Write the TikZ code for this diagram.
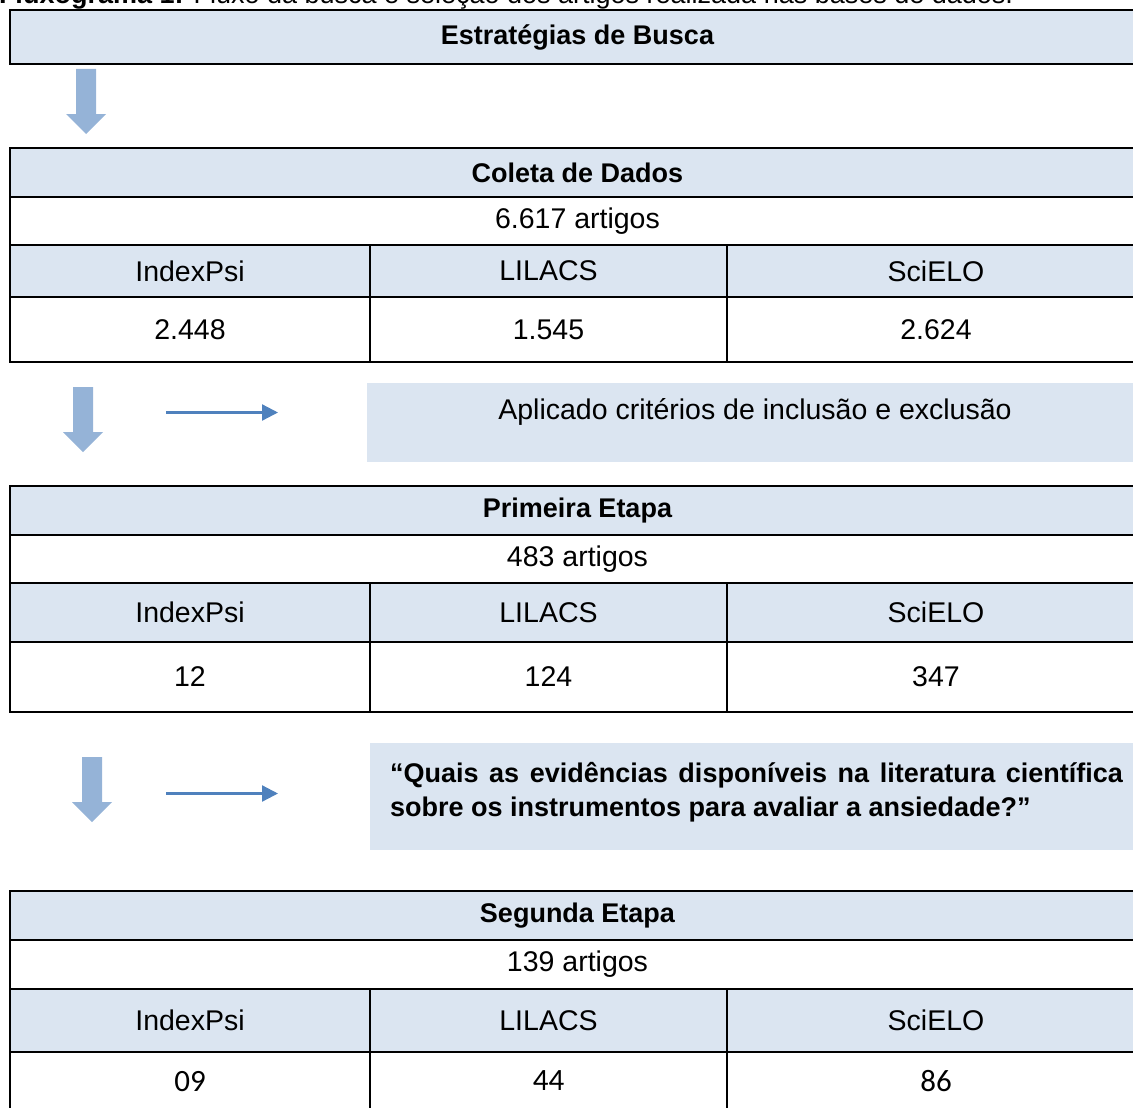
\documentclass[tikz,border=0pt]{standalone}
\usepackage{fontspec}
\setmainfont{Liberation Sans}
\newfontfamily\calibfont{Carlito}
\usetikzlibrary{arrows.meta}
\definecolor{cellblue}{HTML}{DBE5F1}
\definecolor{blockarrow}{HTML}{95B3D7}
\definecolor{thinarrow}{HTML}{4F81BD}
\newcommand\mycell[7]{\node[#6, minimum width={#4-#2}, minimum height={#5-#3}] (#1) at (#2,#3) {#7};}
\newcommand\blockarrowat[1]{\fill[blockarrow] (#1) ++(-10,0) -- ++(20,0) -- ++(0,45) -- ++(10,0) -- ++(-20,20) -- ++(-20,-20) -- ++(10,0) -- cycle;}
\begin{document}
\begin{tikzpicture}[x=1pt,y=-1pt,
  cell/.style={draw=black, line width=2.2pt, anchor=north west, inner sep=0pt, outer sep=0pt, align=center, font=\fontsize{28.5}{32}\selectfont},
  bluecell/.style={cell, fill=cellblue},
  headcell/.style={bluecell, font=\bfseries\fontsize{27}{32}\selectfont},
  numcell/.style={cell},
  calcell/.style={cell, font=\calibfont\fontsize{31}{34}\selectfont},
  note/.style={fill=cellblue, anchor=north west, inner sep=0pt, outer sep=0pt},
  thinarrowline/.style={draw=thinarrow, line width=2.3pt, -{Triangle[length=16pt,width=16pt]}},
  plaintext/.style={inner sep=0pt, outer sep=0pt}
]
\useasboundingbox (0,0) rectangle (1133,1108);
\clip (0,0) rectangle (1133,1108);

% caption (cut at the top edge)
\node[plaintext, anchor=base west, font=\fontsize{27}{30}\selectfont] (caption) at (-1,3.5) {\textbf{Fluxograma 1:} Fluxo da busca e seleção dos artigos realizada nas bases de dados.};

% top box
\mycell{estr}{10}{10}{1145}{64}{headcell}{Estratégias de Busca}

% arrow 1
\coordinate (a1) at (86,69);
\blockarrowat{a1}

% table 1
\mycell{t1h}{10}{148}{1145}{197}{headcell}{Coleta de Dados}
\mycell{t1n}{10}{197}{1145}{245}{cell}{6.617 artigos}
\mycell{t1c1}{10}{245}{370}{297}{bluecell}{IndexPsi}
\mycell{t1c2}{370}{245}{727}{297}{bluecell}{LILACS}
\mycell{t1c3}{727}{245}{1145}{297}{bluecell}{SciELO}
\mycell{t1v1}{10}{297}{370}{362}{numcell}{2.448}
\mycell{t1v2}{370}{297}{727}{362}{numcell}{1.545}
\mycell{t1v3}{727}{297}{1145}{362}{numcell}{2.624}

% arrow 2 + note
\coordinate (a2) at (83,387);
\blockarrowat{a2}
\node[note, minimum width=778pt, minimum height=79pt] (note1) at (367,383) {};
\node[plaintext, font=\fontsize{28.5}{32}\selectfont] (note1txt) at (755,412) {Aplicado critérios de inclusão e exclusão};
\coordinate (t1s) at (166,412.5);
\coordinate (t1e) at (278,412.5);
\draw[thinarrowline] (t1s) -- (t1e);

% table 2
\mycell{t2h}{10}{486}{1145}{535}{headcell}{Primeira Etapa}
\mycell{t2n}{10}{535}{1145}{583}{cell}{483 artigos}
\mycell{t2c1}{10}{583}{370}{642}{bluecell}{IndexPsi}
\mycell{t2c2}{370}{583}{727}{642}{bluecell}{LILACS}
\mycell{t2c3}{727}{583}{1145}{642}{bluecell}{SciELO}
\mycell{t2v1}{10}{642}{370}{712}{numcell}{12}
\mycell{t2v2}{370}{642}{727}{712}{numcell}{124}
\mycell{t2v3}{727}{642}{1145}{712}{numcell}{347}

% arrow 3 + question
\coordinate (a3) at (92,757);
\blockarrowat{a3}
\node[note, minimum width=775pt, minimum height=107pt] (note2) at (370,743) {};
\node[plaintext, anchor=base west, font=\bfseries\fontsize{27}{34}\selectfont] (q1) at (390,782) {\makebox[733pt][s]{“Quais as evidências disponíveis na literatura científica}};
\node[plaintext, anchor=base west, font=\bfseries\fontsize{27}{34}\selectfont] (q2) at (390,816) {sobre os instrumentos para avaliar a ansiedade?”};
\coordinate (t2s) at (166,793.5);
\coordinate (t2e) at (278,793.5);
\draw[thinarrowline] (t2s) -- (t2e);

% table 3
\mycell{t3h}{10}{891}{1145}{940}{headcell}{Segunda Etapa}
\mycell{t3n}{10}{940}{1145}{989}{cell}{139 artigos}
\mycell{t3c1}{10}{989}{370}{1052}{bluecell}{IndexPsi}
\mycell{t3c2}{370}{989}{727}{1052}{bluecell}{LILACS}
\mycell{t3c3}{727}{989}{1145}{1052}{bluecell}{SciELO}
\mycell{t3v1}{10}{1052}{370}{1116}{calcell}{\raisebox{6pt}{09}}
\mycell{t3v2}{370}{1052}{727}{1116}{calcell}{\raisebox{6pt}{44}}
\mycell{t3v3}{727}{1052}{1145}{1116}{calcell}{\raisebox{6pt}{86}}
\end{tikzpicture}
\end{document}
